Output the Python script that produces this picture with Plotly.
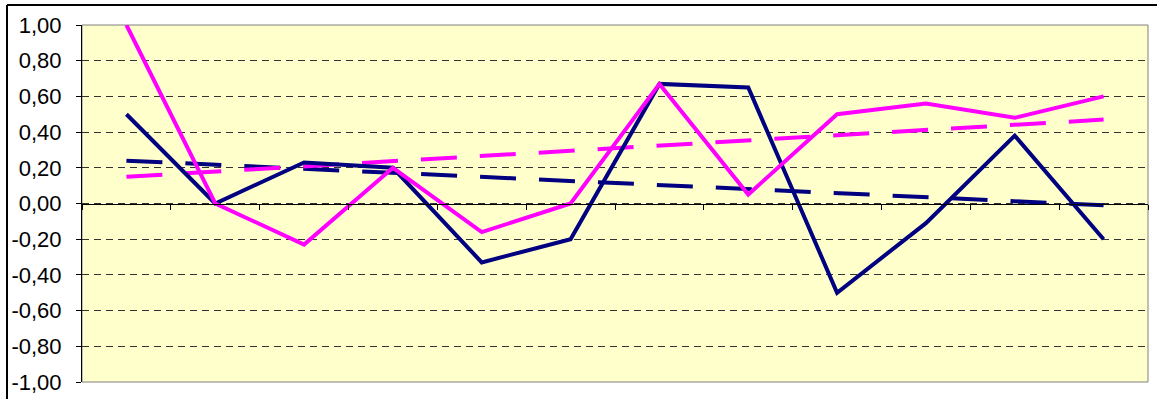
import plotly.graph_objects as go

categories = list(range(1, 13))
navy_values = [0.50, 0.00, 0.23, 0.20, -0.33, -0.20, 0.67, 0.65, -0.50, -0.11, 0.38, -0.20]
magenta_values = [1.00, 0.00, -0.23, 0.20, -0.16, 0.00, 0.67, 0.05, 0.50, 0.56, 0.48, 0.60]
navy_trend_ends = [0.24, -0.01]
magenta_trend_ends = [0.15, 0.47]
trend_x = [categories[0], categories[-1]]
y_ticks = [-1.0, -0.8, -0.6, -0.4, -0.2, 0.0, 0.2, 0.4, 0.6, 0.8, 1.0]
y_tick_labels = ["-1,00", "-0,80", "-0,60", "-0,40", "-0,20", "0,00", "0,20", "0,40", "0,60", "0,80", "1,00"]
x_boundaries = [c - 0.5 for c in categories] + [categories[-1] + 0.5]

NAVY = "#000080"
MAGENTA = "#FF00FF"

fig = go.Figure()
fig.add_trace(go.Scatter(x=trend_x, y=navy_trend_ends, mode="lines",
                         line=dict(color=NAVY, width=4, dash="36px,23px"), showlegend=False))
fig.add_trace(go.Scatter(x=trend_x, y=magenta_trend_ends, mode="lines",
                         line=dict(color=MAGENTA, width=4, dash="36px,23px"), showlegend=False))
fig.add_trace(go.Scatter(x=categories, y=navy_values, mode="lines",
                         line=dict(color=NAVY, width=4), showlegend=False))
fig.add_trace(go.Scatter(x=categories, y=magenta_values, mode="lines",
                         line=dict(color=MAGENTA, width=4), showlegend=False))

W, H = 1157, 399
L, R, T, B = 82, 1148, 25, 382
pw, ph = R - L, B - T

def px(x):
    return (x - L) / pw

def py(y):
    return (B - y) / ph

fig.update_layout(
    width=W, height=H,
    margin=dict(l=L, r=W - R, t=T, b=H - B, autoexpand=False),
    paper_bgcolor="white",
    plot_bgcolor="#FFFFCC",
    font=dict(family="Liberation Sans, Arial, sans-serif", size=22, color="black"),
    xaxis=dict(range=[0.5, 12.5], tickmode="array", tickvals=x_boundaries,
               showticklabels=False, showgrid=False, zeroline=False, automargin=False,
               showline=True, linecolor="black", linewidth=1,
               ticks="outside", ticklen=5, tickcolor="black", tickwidth=1,
               anchor="free", position=0.5),
    yaxis=dict(range=[-1, 1], tickmode="array", tickvals=y_ticks, ticktext=y_tick_labels,
               tickfont=dict(family="Liberation Sans, Arial, sans-serif", size=22, color="black"),
               ticklabelstandoff=10, automargin=False,
               showgrid=True, gridcolor="#333333", griddash="7px,5px", gridwidth=1,
               zeroline=False, showline=True, linecolor="black", linewidth=1,
               ticks="outside", ticklen=5, tickcolor="black"),
    shapes=[
        dict(type="rect", xref="paper", yref="paper", x0=0, x1=1, y0=0, y1=1,
             line=dict(color="#808080", width=1), layer="below"),
        dict(type="line", xref="paper", yref="paper", x0=px(7), x1=px(1200), y0=py(5), y1=py(5),
             line=dict(color="black", width=2)),
        dict(type="line", xref="paper", yref="paper", x0=px(7), x1=px(7), y0=py(5), y1=py(420),
             line=dict(color="black", width=2)),
    ],
)

fig.write_html("out.html")
